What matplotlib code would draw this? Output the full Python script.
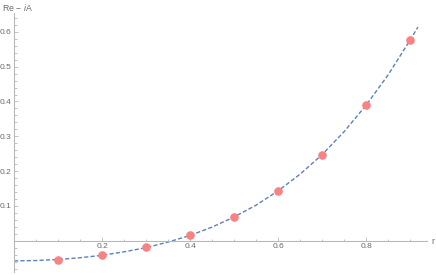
import matplotlib
matplotlib.use("Agg")
import matplotlib.pyplot as plt
from matplotlib.ticker import MultipleLocator, FuncFormatter

plt.rcParams['font.family'] = ['Liberation Sans', 'DejaVu Sans']
plt.rcParams['mathtext.fontset'] = 'custom'
plt.rcParams['mathtext.rm'] = 'Liberation Sans'
plt.rcParams['mathtext.it'] = 'Liberation Sans:italic'

# data points (r, Re - iA)
r_pts = [0.1, 0.2, 0.3, 0.4, 0.5, 0.6, 0.7, 0.8, 0.9]
y_pts = [-0.056, -0.042, -0.019, 0.017, 0.068, 0.144, 0.247, 0.389, 0.576]

# dashed curve
r_curve = [0.0, 0.05, 0.1, 0.15, 0.2, 0.25, 0.3, 0.35, 0.4, 0.45, 0.5,
           0.55, 0.6, 0.65, 0.7, 0.75, 0.8, 0.85, 0.9, 0.918]
y_curve = [-0.058, -0.057, -0.054, -0.049, -0.042, -0.032, -0.020, -0.004,
           0.015, 0.039, 0.068, 0.102, 0.143, 0.191, 0.247, 0.313, 0.389,
           0.476, 0.576, 0.614]

x_ticks = [0.2, 0.4, 0.6, 0.8]
y_ticks = [0.1, 0.2, 0.3, 0.4, 0.5, 0.6]

W, H = 436, 275
fig = plt.figure(figsize=(W / 100, H / 100), dpi=100)
left_px, right_px = 14, 427
top_px, bot_px = 13, 272
ax = fig.add_axes([left_px / W, (H - bot_px) / H, (right_px - left_px) / W,
                   (bot_px - top_px) / H])

axis_col = "#b8b8b8"
lab_col = "#6b6b6b"
curve_col = "#5E81B5"
pt_col = "#F98282"

ax.plot(r_curve, y_curve, color=curve_col, lw=1.0, ls=(0, (3, 1.6)), zorder=2)
ax.plot(r_pts, y_pts, 'o', color=pt_col, ms=6.2, mec='none', zorder=3,
        clip_on=False)

ax.set_xlim(0, (right_px - left_px) / 440.0)
y0 = 240.7
scale = 348.0
ax.set_ylim(-(bot_px - y0) / scale, (y0 - top_px) / scale)

for s in ['top', 'right']:
    ax.spines[s].set_visible(False)
ax.spines['left'].set_position(('data', 0))
ax.spines['bottom'].set_position(('data', 0))
for s in ['left', 'bottom']:
    ax.spines[s].set_color(axis_col)
    ax.spines[s].set_linewidth(0.8)

ax.xaxis.set_major_locator(plt.FixedLocator(x_ticks))
ax.yaxis.set_major_locator(plt.FixedLocator(y_ticks))
ax.xaxis.set_minor_locator(MultipleLocator(0.05))
ax.yaxis.set_minor_locator(MultipleLocator(0.02))
ax.xaxis.set_major_formatter(FuncFormatter(lambda v, p: f"{v:.1f}"))
ax.yaxis.set_major_formatter(FuncFormatter(lambda v, p: f"{v:.1f}"))

ax.tick_params(which='both', direction='in', color=axis_col, width=0.6,
               labelsize=6.0, labelcolor=lab_col)
ax.tick_params(which='major', length=3.2)
ax.tick_params(which='minor', length=1.8)
ax.tick_params(axis='x', pad=2.0)
ax.tick_params(axis='y', pad=1.8)

fig.text(2 / W, 1 - 2 / H, r"Re$\,-\,\mathit{i}$A", fontsize=6.3, color=lab_col,
         ha='left', va='top')
fig.text(431 / W, 1 - 241 / H, "r", fontsize=6.3, color=lab_col,
         ha='left', va='center')

fig.savefig("out.png", dpi=100)
